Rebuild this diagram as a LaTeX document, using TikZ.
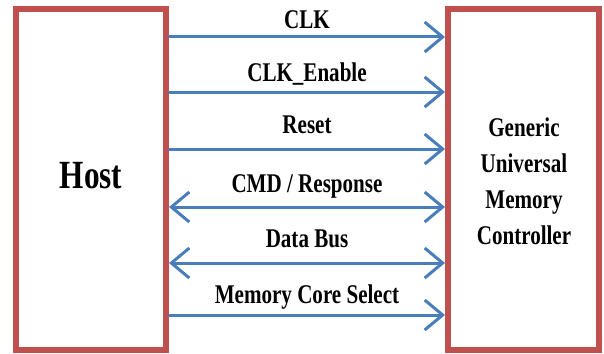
\documentclass[tikz,border=0pt]{standalone}
\usepackage{fontspec}
\newfontfamily\labelfont{Liberation Serif Bold}[FakeStretch=0.78]
\usetikzlibrary{arrows.meta}
\definecolor{boxred}{HTML}{C0504D}
\definecolor{sigblue}{HTML}{4A7EBB}
\tikzset{
  block/.style={draw=boxred, line width=6pt, fill=white},
  signal/.style={draw=sigblue, line width=3pt, line cap=round,
    arrows={-Straight Barb[length=18pt,width=30pt,line width=3pt]}},
  bisignal/.style={signal, arrows={Straight Barb[length=18pt,width=30pt,line width=3pt]-Straight Barb[length=18pt,width=30pt,line width=3pt]}},
  siglabel/.style={anchor=base, inner sep=0pt, font=\labelfont\fontsize{27}{30}\selectfont}
}
\begin{document}
\begin{tikzpicture}[x=1pt, y=-1pt]
  \useasboundingbox (0,0) rectangle (604,353);
  % the two blocks
  \draw[block] (16,9) rectangle (166,350);
  \draw[block] (448,9) rectangle (599,350);
  \node[inner sep=0pt, anchor=base, font=\labelfont\fontsize{40}{44}\selectfont] (host) at (91,188) {Host};
  \node[inner sep=0pt, align=center, font=\labelfont\fontsize{27}{36}\selectfont] (gumc) at (524,181)
    {Generic\\Universal\\Memory\\Controller};
  % port coordinates on the facing edges
  \foreach \n/\y in {a/37, b/92, c/149, d/207, e/263, f/315} {
    \coordinate (h\n) at (169,\y);
    \coordinate (m\n) at (445,\y);
  }
  % signals between host and controller
  \draw[signal] (ha) -- (ma);
  \draw[signal] (hb) -- (mb);
  \draw[signal] (hc) -- (mc);
  \draw[bisignal] (hd) -- (md);
  \draw[bisignal] (he) -- (me);
  \draw[signal] (hf) -- (mf);
  % signal names
  \node[siglabel] (la) at (307,29) {CLK};
  \node[siglabel] (lb) at (307,81) {CLK\_Enable};
  \node[siglabel] (lc) at (307,133) {Reset};
  \node[siglabel] (ld) at (307,192) {CMD / Response};
  \node[siglabel] (le) at (307,247) {Data Bus};
  \node[siglabel] (lf) at (307,303) {Memory Core Select};
\end{tikzpicture}
\end{document}
